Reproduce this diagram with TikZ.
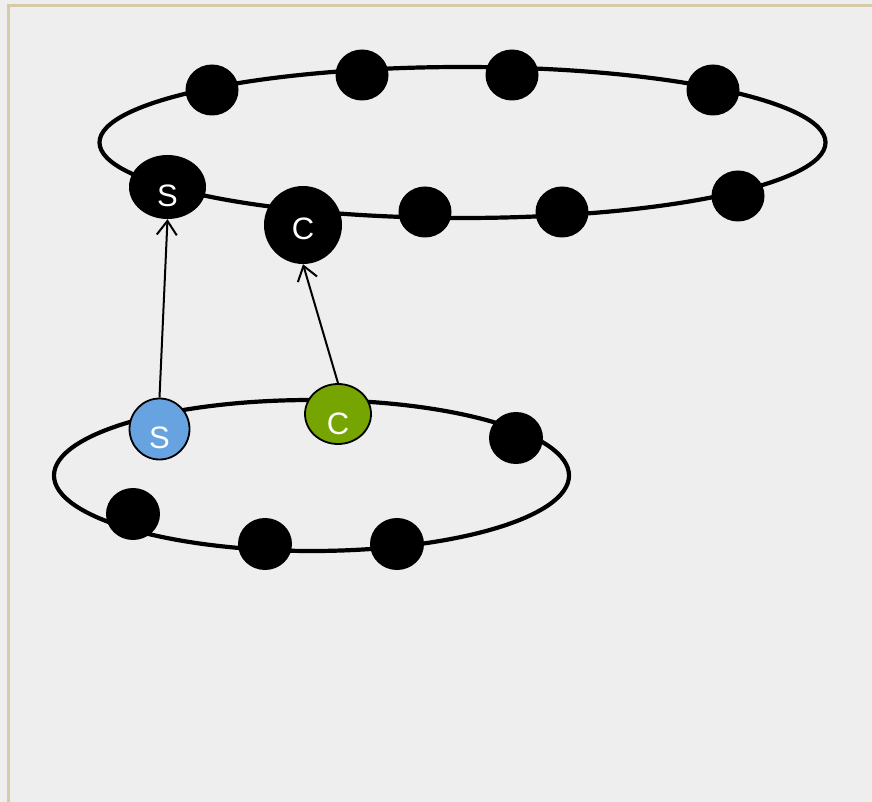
\documentclass[tikz,border=0pt]{standalone}
\usepackage{fontspec}
\setmainfont{Liberation Sans}
\usetikzlibrary{shapes.geometric,arrows.meta}
\definecolor{bgc}{HTML}{EEEEEE}
\definecolor{framec}{HTML}{D5CBA8}
\definecolor{sblue}{HTML}{66A3E0}
\definecolor{cgreen}{HTML}{76A400}
\tikzset{
  ring/.style={draw=black,line width=4.2pt},
  dot/.style={ellipse,fill=black,inner sep=0pt,minimum width=53pt,minimum height=51pt},
  bigdot/.style={ellipse,fill=black,inner sep=0pt,text=white,font=\fontsize{31}{31}\selectfont},
  lowdot/.style={ellipse,draw=black,line width=1.8pt,inner sep=0pt,text=white,font=\fontsize{31}{31}\selectfont},
  lower/.style={text height=#1,text depth=0pt},
  link/.style={draw=black,line width=2pt,-{Straight Barb[length=14pt,width=20pt,line width=2pt]}}
}
\begin{document}
\begin{tikzpicture}[x=1pt,y=-1pt]
\fill[bgc] (0,0) rectangle (872,802);
\useasboundingbox (0,0) rectangle (872,802);
\draw[framec,line width=2.5pt] (8.5,802) -- (8.5,5.5) -- (872,5.5);
% rings
\draw[ring] (462.5,142.5) ellipse [x radius=363, y radius=75.5];
\draw[ring] (311.5,475.5) ellipse [x radius=257.5, y radius=75.5];
% top ring nodes
\node[dot] (t1) at (212,90) {};
\node[dot] (t2) at (362,75) {};
\node[dot] (t3) at (512,75) {};
\node[dot] (t4) at (713,90) {};
\node[dot] (t5) at (425,212) {};
\node[dot] (t6) at (562,212) {};
\node[dot] (t7) at (738,196) {};
\node[bigdot,lower=40pt,minimum width=77pt,minimum height=64pt] (ts) at (167.5,187) {S};
\node[bigdot,lower=30pt,minimum width=78pt,minimum height=78pt] (tc) at (303,225) {C};
% bottom ring nodes
\node[dot,minimum width=54pt,minimum height=52pt] (b1) at (516,438) {};
\node[dot,minimum width=54pt,minimum height=52pt] (b2) at (133,514) {};
\node[dot,minimum width=54pt,minimum height=52pt] (b3) at (265,544) {};
\node[dot,minimum width=54pt,minimum height=52pt] (b4) at (397,544) {};
\node[lowdot,fill=sblue,lower=38pt,minimum width=60pt,minimum height=61pt] (bs) at (159.5,429) {S};
\node[lowdot,fill=cgreen,lower=40pt,minimum width=66pt,minimum height=60pt] (bc) at (338,414) {C};
% links
\draw[link] (bs.north) -- (ts.south);
\draw[link] (bc.north) -- (tc.south);
\end{tikzpicture}
\end{document}
